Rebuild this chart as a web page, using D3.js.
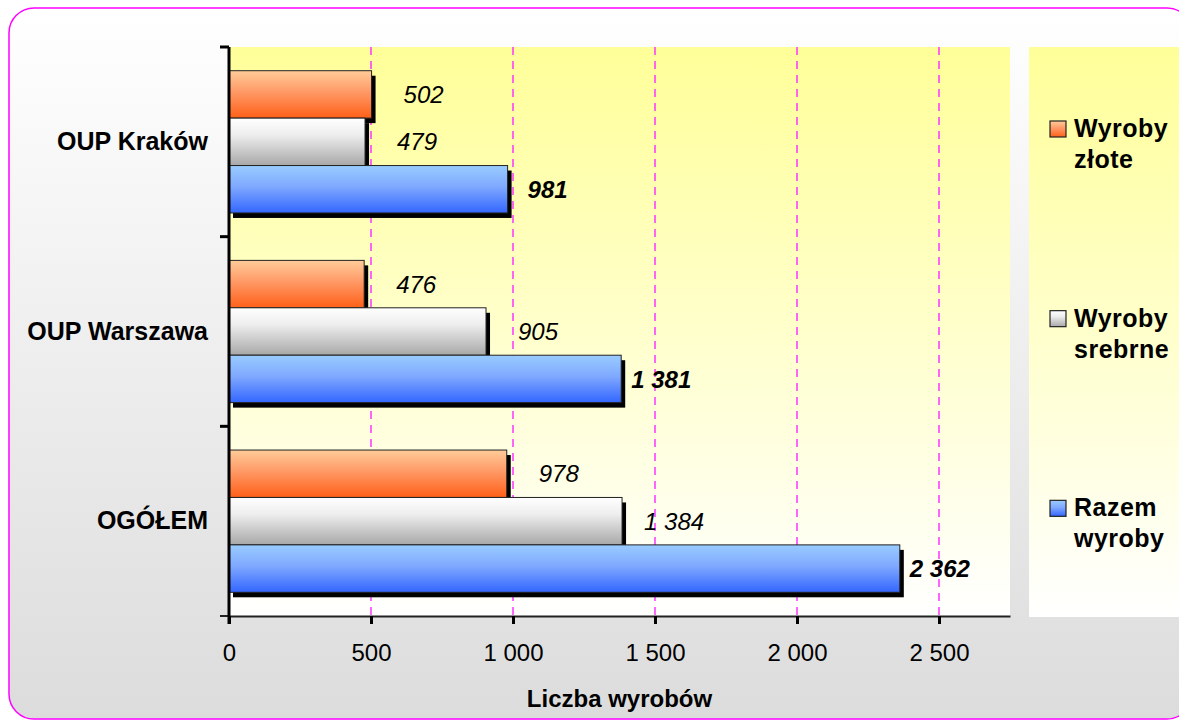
<!DOCTYPE html>
<html>
<head>
<meta charset="utf-8">
<script src="https://cdn.jsdelivr.net/npm/d3@7"></script>
<style>
  html, body { margin: 0; padding: 0; background: #fff; }
  text { font-family: "Liberation Sans", Arial, sans-serif; fill: #000; }
</style>
</head>
<body>
<svg id="chart"></svg>
<script>
// categories, top to bottom
const categories = ["OUP Kraków", "OUP Warszawa", "OGÓŁEM"]
// series, in drawing order inside a group (top to bottom)
const seriesNames = ["Wyroby złote", "Wyroby srebrne", "Razem wyroby"]
const zlote = [502, 476, 978]
const srebrne = [479, 905, 1384]
const razem = [981, 1381, 2362]
const xTicks = [0, 500, 1000, 1500, 2000, 2500]
const xTitle = "Liczba wyrobów"

const seriesValues = [zlote, srebrne, razem]
const seriesKeys = ["zl", "sr", "rz"]

const W = 1179
const H = 720
const plot = { left: 229, top: 47, right: 1010, bottom: 616 }

const svg = d3.select("#chart").attr("width", W).attr("height", H)
const defs = svg.append("defs")

const grad = (id, stops) => {
  const g = defs.append("linearGradient").attr("id", id)
    .attr("x1", 0).attr("y1", 0).attr("x2", 0).attr("y2", 1)
  stops.forEach(([o, c]) => g.append("stop").attr("offset", o).attr("stop-color", c))
}
grad("bgOuter", [[0, "#ffffff"], [1, "#dcdcdc"]])
grad("bgPlot", [[0, "#ffff99"], [1, "#ffffff"]])
grad("zl", [[0, "#ffcc99"], [0.45, "#ff9966"], [1, "#ff6018"]])
grad("sr", [[0, "#ffffff"], [0.35, "#eeeeee"], [1, "#a8a8a8"]])
grad("rz", [[0, "#99ccff"], [0.45, "#7fa8ff"], [1, "#3366ff"]])

// outer frame
svg.append("rect")
  .attr("x", 9).attr("y", 8).attr("width", 1183).attr("height", 711)
  .attr("rx", 25)
  .attr("fill", "url(#bgOuter)")
  .attr("stroke", "#ff00ff").attr("stroke-width", 1.5)

// plot background
svg.append("rect")
  .attr("x", plot.left).attr("y", plot.top)
  .attr("width", plot.right - plot.left).attr("height", plot.bottom - plot.top)
  .attr("fill", "url(#bgPlot)")

const x = d3.scaleLinear().domain([0, 2750]).range([plot.left, plot.right])
const yCat = d3.scaleBand().domain(categories).range([plot.top, plot.bottom])
const ySer = d3.scaleBand().domain(seriesKeys).range([0, yCat.bandwidth()]).paddingOuter(0.5)

const fmt = d3.formatLocale({ decimal: ",", thousands: "\u00a0", grouping: [3], currency: ["", " zł"] }).format(",d")

// gridlines
svg.append("g").selectAll("line")
  .data(xTicks.filter((d) => d > 0))
  .join("line")
  .attr("x1", (d) => x(d)).attr("x2", (d) => x(d))
  .attr("y1", plot.top).attr("y2", plot.bottom)
  .attr("stroke", "#ff33ff").attr("stroke-width", 1.5)
  .attr("stroke-dasharray", "8 6")

// bars
const groups = svg.append("g").selectAll("g")
  .data(categories)
  .join("g")
  .attr("transform", (c) => `translate(0,${yCat(c)})`)

groups.each(function (c, ci) {
  const g = d3.select(this)
  seriesKeys.forEach((k, si) => {
    const v = seriesValues[si][ci]
    const y0 = ySer(k)
    const h = ySer.bandwidth()
    // drop shadow
    g.append("rect")
      .attr("x", x(0) + 4).attr("y", y0 + 5)
      .attr("width", x(v) - x(0)).attr("height", h)
      .attr("fill", "#000")
    g.append("rect")
      .attr("x", x(0)).attr("y", y0)
      .attr("width", x(v) - x(0)).attr("height", h)
      .attr("fill", `url(#${k})`)
      .attr("stroke", "#222").attr("stroke-width", 1)
  })
  seriesKeys.forEach((k, si) => {
    const v = seriesValues[si][ci]
    const bold = k === "rz"
    g.append("text")
      .attr("x", x(v) + (bold ? 40 : 52))
      .attr("y", ySer(k) + ySer.bandwidth() / 2)
      .attr("dy", "0.36em")
      .attr("text-anchor", "middle")
      .attr("font-size", 24)
      .attr("font-style", "italic")
      .attr("font-weight", bold ? "bold" : "normal")
      .text(fmt(v))
  })
})

// x axis
const xAxis = svg.append("g")
  .attr("transform", `translate(0,${plot.bottom})`)
  .call(d3.axisBottom(x).tickValues(xTicks).tickSize(8).tickPadding(20).tickFormat(fmt).tickSizeOuter(0))
xAxis.select(".domain").attr("stroke", "#222").attr("stroke-width", 2)
xAxis.selectAll(".tick line").attr("stroke", "#000").attr("stroke-width", 3)
xAxis.selectAll(".tick text")
  .attr("font-size", 24).attr("font-family", "Liberation Sans, Arial, sans-serif").attr("fill", "#000")

// y axis: labels centred, ticks on category boundaries
const yAxis = svg.append("g")
  .attr("transform", `translate(${plot.left},0)`)
  .call(d3.axisLeft(yCat).tickSize(0).tickPadding(21))
yAxis.select(".domain").remove()
yAxis.selectAll(".tick text")
  .attr("font-size", 25).attr("font-weight", "bold")
  .attr("font-family", "Liberation Sans, Arial, sans-serif").attr("fill", "#000")

const bounds = categories.map((c) => yCat(c)).concat([plot.bottom])
svg.append("g").selectAll("line")
  .data(bounds)
  .join("line")
  .attr("x1", plot.left - 9).attr("x2", plot.left)
  .attr("y1", (d) => d).attr("y2", (d) => d)
  .attr("stroke", (d, i) => (i === bounds.length - 1 ? "#222" : "#000"))
  .attr("stroke-width", (d, i) => (i === bounds.length - 1 ? 2 : 3))
svg.append("line")
  .attr("x1", plot.left).attr("x2", plot.left)
  .attr("y1", plot.top).attr("y2", plot.bottom + 8)
  .attr("stroke", "#000").attr("stroke-width", 3)

// axis title
svg.append("text")
  .attr("x", (plot.left + plot.right) / 2)
  .attr("y", 707)
  .attr("text-anchor", "middle")
  .attr("font-size", 24).attr("font-weight", "bold")
  .text(xTitle)

// legend
const legend = svg.append("g")
legend.append("rect")
  .attr("x", 1029).attr("y", plot.top)
  .attr("width", 170).attr("height", plot.bottom - plot.top + 1)
  .attr("fill", "url(#bgPlot)")

const items = legend.selectAll("g.item")
  .data(seriesNames)
  .join("g")
  .attr("class", "item")
  .attr("transform", (d, i) => `translate(1050,${121 + i * yCat.step()})`)
items.append("rect")
  .attr("width", 16).attr("height", 16)
  .attr("fill", (d, i) => `url(#${seriesKeys[i]})`)
  .attr("stroke", "#222").attr("stroke-width", 1.2)
items.append("text")
  .attr("font-size", 25).attr("font-weight", "bold")
  .attr("letter-spacing", 0.5)
  .selectAll("tspan")
  .data((d) => d.split(" "))
  .join("tspan")
  .attr("x", 24)
  .attr("y", (d, i) => 16 + i * 31)
  .text((d) => d)
</script>
</body>
</html>
